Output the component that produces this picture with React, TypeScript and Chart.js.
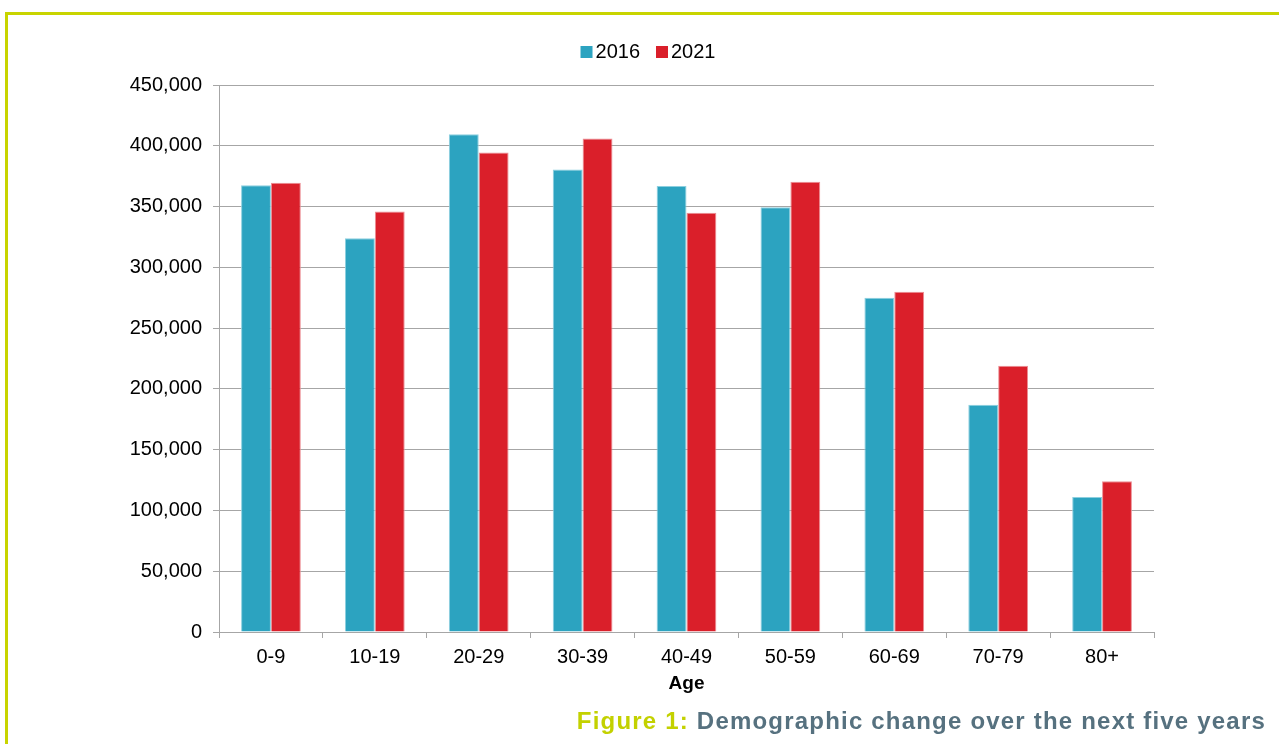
import React, { useEffect, useRef } from "react";
import { Chart, registerables } from "chart.js";

Chart.register(...registerables);

const categories = ["0-9", "10-19", "20-29", "30-39", "40-49", "50-59", "60-69", "70-79", "80+"];
const values2016 = [367500, 324000, 409500, 380500, 367000, 349500, 275000, 187000, 111000];
const values2021 = [369500, 346000, 394500, 406000, 345000, 370500, 280000, 219000, 124000];
const seriesLabels = ["2016", "2021"];
const yTicks = { min: 0, max: 450000, step: 50000 };
const xTitle = "Age";
const captionLead = "Figure 1:";
const captionText = " Demographic change over the next five years";

const BLUE = "#2ca3c0";
const RED = "#da1f2a";
const GRID = "#a6a6a6";
const FONT = "'Liberation Sans', Arial, sans-serif";

const overlayPlugin = {
  id: "overlay",
  afterDraw(chart: any) {
    const ctx = chart.ctx;
    ctx.save();
    // legend
    ctx.font = `20px ${FONT}`;
    ctx.textBaseline = "alphabetic";
    ctx.textAlign = "left";
    const box = 12;
    const gapText = 3;
    const gapItem = 16;
    const items = chart.data.datasets.map((d: any) => ({
      label: d.label,
      color: d.backgroundColor,
      w: ctx.measureText(d.label).width,
    }));
    let total = 0;
    items.forEach((it: any, i: number) => {
      total += box + gapText + it.w + (i < items.length - 1 ? gapItem : 0);
    });
    let x = 648 - total / 2;
    items.forEach((it: any) => {
      ctx.fillStyle = it.color;
      ctx.fillRect(x, 46, box, box);
      x += box + gapText;
      ctx.fillStyle = "#000";
      ctx.fillText(it.label, x, 57.5);
      x += it.w + gapItem;
    });
    // axis title
    const ca = chart.chartArea;
    ctx.font = `bold 19px ${FONT}`;
    ctx.textAlign = "center";
    ctx.textBaseline = "middle";
    ctx.fillStyle = "#000";
    ctx.fillText(xTitle, (ca.left + ca.right) / 2, 684);
    ctx.restore();
  },
};

export default function App() {
  const ref = useRef<HTMLCanvasElement | null>(null);

  useEffect(() => {
    if (!ref.current) return;
    const chart = new Chart(ref.current, {
      type: "bar",
      data: {
        labels: categories,
        datasets: [
          {
            label: seriesLabels[0],
            data: values2016,
            backgroundColor: BLUE,
            borderColor: "#8ccfdf",
            borderWidth: 1,
            categoryPercentage: 0.575,
            barPercentage: 1.0,
          },
          {
            label: seriesLabels[1],
            data: values2021,
            backgroundColor: RED,
            borderColor: "#ec8e94",
            borderWidth: 1,
            categoryPercentage: 0.575,
            barPercentage: 1.0,
          },
        ],
      },
      options: {
        responsive: false,
        animation: false,
        devicePixelRatio: 1,
        layout: { padding: { top: 85, right: 125, left: 0, bottom: 0 } },
        plugins: {
          legend: { display: false },
          tooltip: { enabled: false },
        },
        scales: {
          x: {
            offset: true,
            grid: {
              offset: true,
              drawOnChartArea: false,
              drawTicks: true,
              tickLength: 6,
              color: GRID,
            },
            border: { color: GRID },
            ticks: { color: "#000", font: { family: FONT, size: 20 }, padding: 7 },
            afterFit: (s: any) => {
              s.height = 112;
            },
          },
          y: {
            min: yTicks.min,
            max: yTicks.max,
            grid: { color: GRID, tickLength: 6 },
            border: { color: GRID },
            ticks: {
              stepSize: yTicks.step,
              color: "#000",
              padding: 11,
              font: { family: FONT, size: 20 },
              callback: (v: any) => Number(v).toLocaleString("en-US"),
            },
            afterFit: (s: any) => {
              s.width = 219;
            },
          },
        },
      },
      plugins: [overlayPlugin],
    });
    return () => chart.destroy();
  }, []);

  return (
    <div>
      <div
        style={{
          position: "absolute",
          left: 5,
          top: 12,
          width: 1274,
          height: 732,
          borderTop: "3px solid #c8d400",
          borderLeft: "3px solid #c8d400",
          boxSizing: "border-box",
        }}
      />
      <canvas
        ref={ref}
        width={1279}
        height={744}
        style={{ position: "absolute", left: 0, top: 0, width: 1279, height: 744 }}
      />
      <div
        style={{
          position: "absolute",
          right: 13,
          top: 709,
          font: `bold 24px ${FONT}`,
          lineHeight: "24px",
          letterSpacing: "1.2px",
          whiteSpace: "nowrap",
          color: "#56717f",
        }}
      >
        <span style={{ color: "#c3d100" }}>{captionLead}</span>
        {captionText}
      </div>
    </div>
  );
}
